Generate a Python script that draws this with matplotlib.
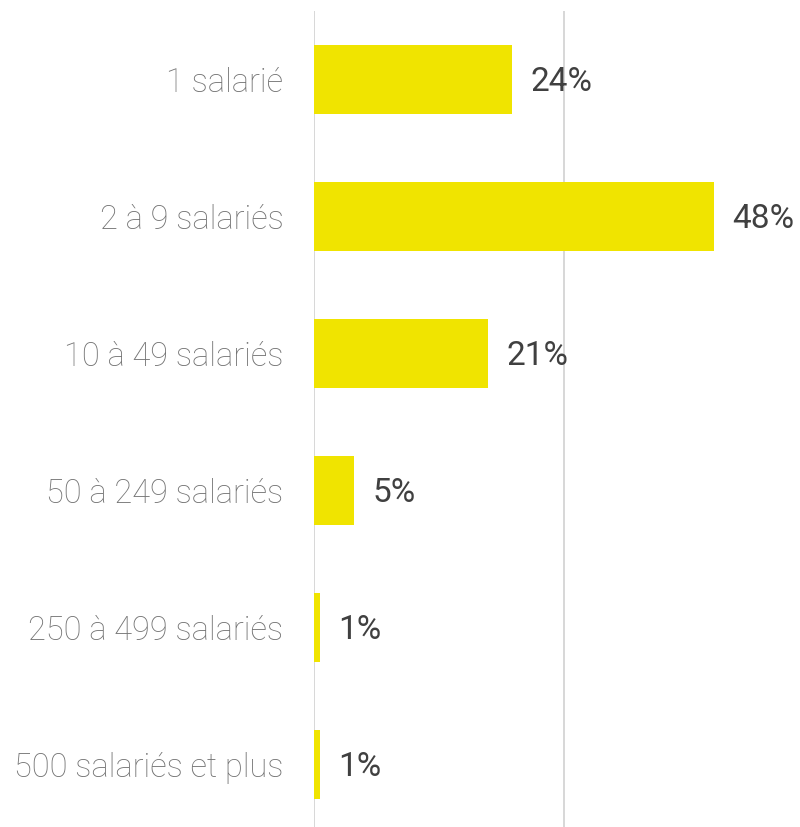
import matplotlib
matplotlib.use("Agg")
import matplotlib.pyplot as plt

categories = ["1 salarié", "2 à 9 salariés", "10 à 49 salariés",
              "50 à 249 salariés", "250 à 499 salariés", "500 salariés et plus"]
# bar lengths (labels are the rounded values)
values = [23.8, 48.0, 20.9, 4.8, 0.7, 0.7]
value_labels = ["24%", "48%", "21%", "5%", "1%", "1%"]

BAR_COLOR = "#F0E400"
GRID_COLOR = "#D4D4D4"

plt.rcParams['font.family'] = ['Roboto', 'DejaVu Sans']

fig = plt.figure(figsize=(8, 8.27), dpi=100)
ax = fig.add_axes([314 / 800, -0.0073, 486 / 800, 0.9940])

y = list(range(len(categories)))
ax.barh(y, values, height=0.5, color=BAR_COLOR, zorder=3)
ax.set_ylim(len(categories) - 0.5, -0.5)
ax.set_xlim(0, 58.3)

for yi, v, lab in zip(y, values, value_labels):
    ax.annotate(lab, (v, yi), xytext=(13, -2), textcoords="offset points",
                va="center", ha="left", fontsize=24, color="#404040",
                fontweight="normal", zorder=4)

ax.set_yticks(y)
ax.set_yticklabels(categories, fontsize=23.5, color="#737373", fontweight="light")
ax.tick_params(axis="y", length=0, pad=22)
ax.set_xticks([0, 30])
ax.tick_params(axis="x", length=0, labelbottom=False)
ax.grid(axis="x", color=GRID_COLOR, linewidth=1.3, zorder=0)
for s in ax.spines.values():
    s.set_visible(False)

fig.savefig("out.png", dpi=100)
